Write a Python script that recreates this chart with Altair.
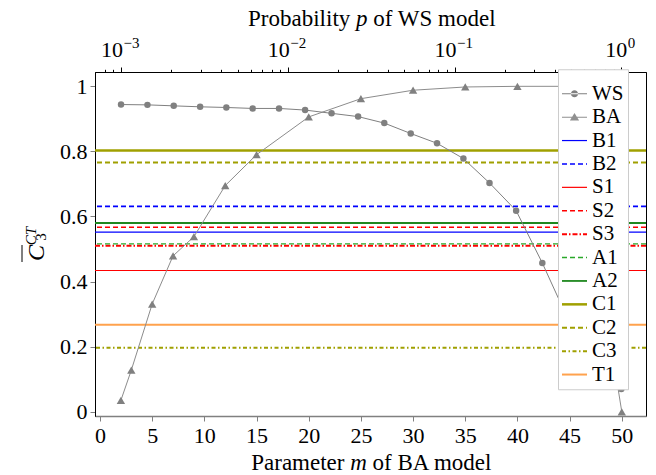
import altair as alt
import pandas as pd

# ---------------- data ----------------
ws_p = [0.001, 0.00144, 0.00207, 0.00298, 0.00428, 0.00616, 0.00886, 0.0127, 0.0183, 0.0264,
        0.0379, 0.0546, 0.0785, 0.113, 0.162, 0.234, 0.336, 0.483, 0.695, 1.0]
ws_c = [0.944, 0.943, 0.940, 0.937, 0.935, 0.932, 0.932, 0.927, 0.917, 0.907,
        0.887, 0.855, 0.825, 0.778, 0.703, 0.618, 0.457, 0.28, 0.15, 0.07]

ba_m = [2, 3, 5, 7, 9, 12, 15, 20, 25, 30, 35, 40, 45, 50]
ba_c = [0.035, 0.128, 0.331, 0.479, 0.538, 0.695, 0.790, 0.906, 0.962, 0.988, 0.998, 1.0, 1.0, 0.0]

ref_names = ["B1", "B2", "S1", "S2", "S3", "A1", "A2", "C1", "C2", "C3", "T1"]
ref_values = [0.552, 0.631, 0.434, 0.567, 0.510, 0.516, 0.580, 0.803, 0.766, 0.197, 0.267]

series = ["WS", "BA"] + ref_names
y_ticks = [0, 0.2, 0.4, 0.6, 0.8, 1.0]
m_ticks = [0, 5, 10, 15, 20, 25, 30, 35, 40, 45, 50]
p_ticks = [0.0008, 0.0009, 0.001, 0.002, 0.003, 0.004, 0.005, 0.006, 0.007, 0.008, 0.009,
           0.01, 0.02, 0.03, 0.04, 0.05, 0.06, 0.07, 0.08, 0.09,
           0.1, 0.2, 0.3, 0.4, 0.5, 0.6, 0.7, 0.8, 0.9, 1.0]
dec_p = [0.001, 0.01, 0.1, 1.0]
dec_exp = ["−3", "−2", "−1", "0"]

# title pieces (regular / italic / regular)
bottom_title = ["Parameter", "m", "of BA model"]
top_title = ["Probability", "p", "of WS model"]

# ---------------- styles ----------------
SOLID = []
DASHED = [5, 3]
DASHDOT = [5, 2, 1.5, 2]
style = {
    "WS": ("#808080", 1.0, SOLID),
    "BA": ("#909090", 1.0, SOLID),
    "B1": ("#0000ff", 1.2, SOLID),
    "B2": ("#0000ff", 1.6, DASHED),
    "S1": ("#ff0000", 1.2, SOLID),
    "S2": ("#ff0000", 1.6, DASHED),
    "S3": ("#ff0000", 2.0, DASHDOT),
    "A1": ("#2aa82a", 1.4, DASHED),
    "A2": ("#1f881f", 1.8, SOLID),
    "C1": ("#a0a000", 2.5, SOLID),
    "C2": ("#a0a000", 2.0, DASHED),
    "C3": ("#a0a000", 2.0, [4, 2.5, 1.5, 2.5]),
    "T1": ("#ffa24d", 2.0, SOLID),
}
FONT = "Liberation Serif"
TFS = 23  # title font size

# legend symbols as filled paths (unit = 12.5 px, symbolSize 625 -> 25 px wide)
K = 12.5


def seg(x0, x1, h):
    return f"M{x0/K:.3f},{-h/2/K:.3f}H{x1/K:.3f}V{h/2/K:.3f}H{x0/K:.3f}Z"


def line_path(pattern, h):
    if not pattern:
        return seg(-12.5, 12.5, h)
    out, x, i = [], -12.5, 0
    while x < 12.5:
        L = pattern[i % len(pattern)]
        if i % 2 == 0:
            out.append(seg(x, min(x + L, 12.5), h))
        x += L
        i += 1
    return "".join(out)


r = 3.6 / K
circle = f"M{-r:.3f},0A{r:.3f},{r:.3f} 0 1,0 {r:.3f},0A{r:.3f},{r:.3f} 0 1,0 {-r:.3f},0Z"
tri = f"M0,{-4.2/K:.3f}L{4.6/K:.3f},{3.4/K:.3f}L{-4.6/K:.3f},{3.4/K:.3f}Z"
shapes = []
for s in series:
    c, w, d = style[s]
    p = line_path(d, w)
    if s == "WS":
        p += circle
    if s == "BA":
        p += tri
    shapes.append(p)
colors = [style[s][0] for s in series]

# ---------------- frames ----------------
ws_df = pd.DataFrame({"p": ws_p, "c": ws_c})
ba_df = pd.DataFrame({"m": ba_m, "c": ba_c})
ref_df = pd.DataFrame({"name": ref_names, "value": ref_values})
leg_df = pd.DataFrame({"series": series})
dec_df = pd.DataFrame({"p": dec_p, "e": dec_exp})

YSCALE = alt.Scale(domain=[-0.013, 1.044], nice=False, zero=False)
YAXIS = alt.Axis(values=y_ticks, format=".1~f", title=None, labelFont=FONT,
                 labelFontSize=22, labelColor="black", tickColor="#808080",
                 tickSize=5, domainColor="black", labelPadding=3, grid=False)
Y = alt.Y("c:Q", scale=YSCALE, axis=YAXIS)

Xm = alt.X("m:Q", scale=alt.Scale(domain=[-0.48, 52.32], nice=False, zero=False),
           axis=alt.Axis(values=m_ticks, title=None, labelFont=FONT, labelFontSize=22,
                         labelColor="black", tickColor="#808080", tickSize=5,
                         domainColor="#808080", domainWidth=1.5, labelPadding=4,
                         grid=False, labelFlush=False))

e = "(log(datum.value)/LN10)"
major = f"abs({e} - round({e})) < 0.001"
Xp = alt.X("p:Q", scale=alt.Scale(type="log", domain=[0.000698, 1.406], nice=False),
           axis=alt.Axis(orient="top", values=p_ticks, labels=False, title=None,
                         tickColor="black", domainColor="black",
                         tickSize={"condition": {"test": major, "value": 5}, "value": 2.7},
                         grid=False))

# reference rules
rules = []
for nm in ref_names:
    c, w, d = style[nm]
    kw = dict(color=c, strokeWidth=w)
    if d:
        kw["strokeDash"] = d
    rules.append(
        alt.Chart(ref_df[ref_df["name"] == nm]).mark_rule(**kw).encode(
            y=alt.Y("value:Q", scale=YSCALE, axis=YAXIS)
        )
    )

ba_line = alt.Chart(ba_df).mark_line(color="#8c8c8c", strokeWidth=1).encode(x=Xm, y=Y)
ba_pts = alt.Chart(ba_df).mark_point(shape="triangle-up", filled=True, size=70,
                                     color="#808080", opacity=1).encode(x=Xm, y=Y)

legend = alt.Legend(title=" ", titleFontSize=7, titlePadding=1, orient="none",
                    legendX=463, legendY=-2.75,
                    symbolSize=625, symbolOpacity=1, symbolStrokeWidth=0,
                    labelFont=FONT, labelFontSize=21, labelColor="black",
                    labelOffset=5, rowPadding=0.4, padding=4,
                    fillColor="white", strokeColor="#cccccc", cornerRadius=0)
leg_layer = alt.Chart(leg_df).mark_point(filled=True, opacity=0).encode(
    color=alt.Color("series:N", scale=alt.Scale(domain=series, range=colors), legend=legend),
    shape=alt.Shape("series:N", scale=alt.Scale(domain=series, range=shapes), legend=legend),
)


def txt(t, x, y, size, italic=False, angle=0, align="left"):
    kw = dict(font=FONT, fontSize=size, align=align, baseline="alphabetic", color="black")
    if italic:
        kw["fontStyle"] = "italic"
    if angle:
        kw["angle"] = angle
    return alt.Chart(pd.DataFrame({"t": [t]})).mark_text(**kw).encode(
        text="t:N", x=alt.value(x), y=alt.value(y))


# axis titles with an italic variable (Times metrics: widths in em)
bs = 277 - 10.5 * TFS / 2
b_parts = [
    txt(bottom_title[0], bs, 397.5, TFS),
    txt(bottom_title[1], bs + 4.304 * TFS, 397.5, TFS, italic=True),
    txt(bottom_title[2], bs + (4.304 + 0.722 + 0.25) * TFS, 397.5, TFS),
]
ts = 277 - 10.778 * TFS / 2
t_parts = [
    txt(top_title[0], ts, -46.5, TFS),
    txt(top_title[1], ts + 4.695 * TFS, -46.5, TFS, italic=True),
    txt(top_title[2], ts + (4.695 + 0.5 + 0.25) * TFS, -46.5, TFS),
]

# y-axis title  C̄_3^{CT}
y_parts = [
    txt("C", -51, 181, 24, italic=True, angle=270, align="center"),
    txt("CT", -59, 164, 15, italic=True, angle=270, align="center"),
    txt("3", -49, 165, 15, angle=270, align="center"),
]
t_bar = alt.Chart(pd.DataFrame({"t": ["C"]})).mark_rule(color="black", strokeWidth=1).encode(
    x=alt.value(-73), y=alt.value(173), y2=alt.value(190))

ba_group = alt.layer(*rules, ba_line, ba_pts, leg_layer, *b_parts, *t_parts, *y_parts, t_bar)

# top tick labels 10^k : base "10" and raised exponent, centred on the tick together
dec_labels = []
for sub, dxv in ((dec_df[dec_df["e"] != "0"], 2), (dec_df[dec_df["e"] == "0"], 6)):
    dec_labels.append(
        alt.Chart(sub).mark_text(font=FONT, fontSize=22, align="right", baseline="alphabetic",
                                 color="black", dx=dxv).encode(
            x=Xp, y=alt.value(-15), text=alt.value("10")))
    dec_labels.append(
        alt.Chart(sub).mark_text(font=FONT, fontSize=15, align="left", baseline="alphabetic",
                                 color="black", dx=dxv + 0.5).encode(
            x=Xp, y=alt.value(-24), text="e:N"))

ws_line = alt.Chart(ws_df).mark_line(color="#808080", strokeWidth=1).encode(x=Xp, y=Y)
ws_pts = alt.Chart(ws_df).mark_point(shape="circle", filled=True, size=42,
                                     color="#808080", opacity=1).encode(x=Xp, y=Y)
ws_group = alt.layer(ws_line, ws_pts, *dec_labels)

chart = alt.layer(ba_group, ws_group).resolve_scale(x="independent").properties(
    width=551, height=344,
    padding={"left": 95, "top": 72, "right": 10, "bottom": 59},
    autosize=alt.AutoSizeParams(type="none"),
    background="white",
).configure(font=FONT).configure_axis(
    labelFont=FONT, titleFont=FONT, labelFontSize=22
).configure_legend(labelFont=FONT).configure_text(font=FONT).configure_view(
    stroke="black", strokeWidth=1)

chart.save("out.html", embed_options={"renderer": "svg", "actions": False})
